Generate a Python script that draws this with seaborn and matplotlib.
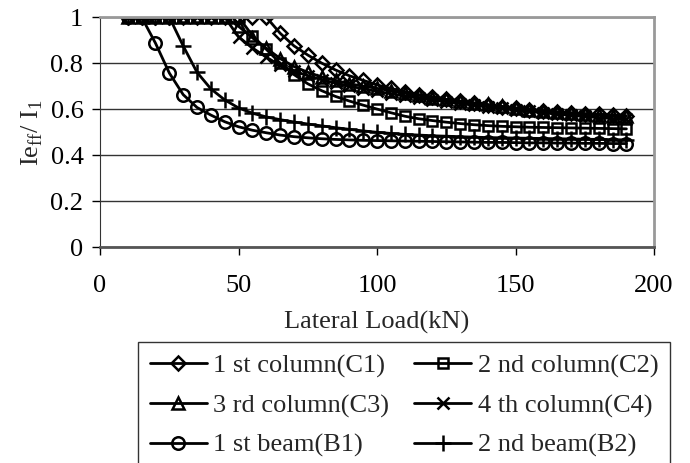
import numpy as np
import pandas as pd
import matplotlib
matplotlib.use("Agg")
import matplotlib.pyplot as plt
import seaborn as sns

# lateral load steps (kN)
load = list(range(10, 195, 5))

c1 = [1, 1, 1, 1, 1, 1, 1, 1, 1, 1, 1, 0.93, 0.875, 0.835, 0.80, 0.77, 0.745, 0.725, 0.705,
      0.69, 0.675, 0.663, 0.652, 0.642, 0.633, 0.625, 0.617, 0.61, 0.604, 0.598, 0.593,
      0.588, 0.584, 0.58, 0.577, 0.574, 0.571]
c2 = [1, 1, 1, 1, 1, 1, 1, 1, 1, 0.92, 0.86, 0.80, 0.75, 0.71, 0.68, 0.655, 0.635, 0.617, 0.60,
      0.584, 0.569, 0.558, 0.55, 0.543, 0.537, 0.532, 0.528, 0.525, 0.523, 0.521, 0.52,
      0.519, 0.518, 0.517, 0.516, 0.515, 0.514]
c3 = [1, 1, 1, 1, 1, 1, 1, 1, 0.96, 0.91, 0.865, 0.82, 0.785, 0.76, 0.74, 0.725, 0.71, 0.70, 0.69,
      0.68, 0.67, 0.66, 0.65, 0.642, 0.635, 0.627, 0.62, 0.612, 0.605, 0.598, 0.592,
      0.587, 0.582, 0.578, 0.574, 0.571, 0.568]
c4 = [1, 1, 1, 1, 1, 1, 1, 1, 0.914, 0.866, 0.826, 0.79, 0.765, 0.745, 0.728, 0.713, 0.70, 0.688,
      0.677, 0.667, 0.657, 0.648, 0.64, 0.632, 0.624, 0.617, 0.61, 0.603, 0.596, 0.59,
      0.584, 0.578, 0.573, 0.568, 0.563, 0.559, 0.555]
b1 = [1, 1, 0.887, 0.757, 0.663, 0.607, 0.574, 0.545, 0.523, 0.508, 0.497, 0.487, 0.48, 0.475,
      0.471, 0.468, 0.466, 0.464, 0.463, 0.462, 0.461, 0.46, 0.459, 0.458, 0.457, 0.456,
      0.455, 0.455, 0.454, 0.453, 0.453, 0.452, 0.452, 0.451, 0.451, 0.45, 0.45]
b2 = [1, 1, 1, 1, 0.875, 0.76, 0.688, 0.64, 0.605, 0.582, 0.566, 0.554, 0.544, 0.535, 0.527,
      0.519, 0.512, 0.505, 0.499, 0.494, 0.49, 0.487, 0.484, 0.482, 0.48, 0.478, 0.476,
      0.475, 0.474, 0.473, 0.472, 0.471, 0.47, 0.469, 0.468, 0.467, 0.466]

labels = ['1 st column(C1)', '2 nd column(C2)', '3 rd column(C3)',
          '4 th column(C4)', '1 st beam(B1)', '2 nd beam(B2)']
markers = ['D', 's', '^', 'x', 'o', '+']
series = [c1, c2, c3, c4, b1, b2]

xticks = [0, 50, 100, 150, 200]
yticks = [0, 0.2, 0.4, 0.6, 0.8, 1.0]
ytick_labels = ['0', '0.2', '0.4', '0.6', '0.8', '1']

sns.set_style('white')
plt.rcParams['font.family'] = ['Liberation Serif', 'DejaVu Serif']
plt.rcParams['mathtext.fontset'] = 'custom'
plt.rcParams['mathtext.rm'] = 'Liberation Serif'

fig = plt.figure(figsize=(6.9, 4.63), dpi=100)
ax = fig.add_axes([0.145, 0.4665, 0.803, 0.4965])

msizes = {'D': 7, 's': 7.5, '^': 8.5, 'x': 8.5, 'o': 9, '+': 11}
for vals, lab, m in zip(series, labels, markers):
    sns.lineplot(x=load, y=vals, ax=ax, color='black', lw=2, marker=m,
                 markersize=msizes[m], mfc='none', mec='black', mew=1.8,
                 label=lab, legend=False)

ax.set_xlim(0, 200)
ax.set_ylim(0, 1)
ax.set_xticks(xticks)
ax.set_xticklabels([str(t) for t in xticks])
ax.set_yticks(yticks)
ax.set_yticklabels(ytick_labels)
ax.tick_params(axis='both', labelsize=19, direction='out', length=6, width=1,
               colors='black', bottom=True, left=True)
ax.tick_params(axis='x', pad=14)
ax.tick_params(axis='y', pad=6)

ax.grid(axis='y', color='#333333', lw=1)
ax.grid(axis='x', visible=False)
for s in ['top', 'right']:
    ax.spines[s].set_color('#999999')
    ax.spines[s].set_linewidth(2)
ax.spines['left'].set_color('#333333')
ax.spines['bottom'].set_color('#555555')
ax.spines['bottom'].set_linewidth(2)

ax.set_xlabel('Lateral Load(kN)', fontsize=19, labelpad=10)
ax.set_ylabel(r'Ie$_{\rm ff}$/ I$_{\rm 1}$', fontsize=19, labelpad=4)

# legend fills row by row: C1 C2 / C3 C4 / B1 B2
handles, labs = ax.get_legend_handles_labels()
order = [0, 2, 4, 1, 3, 5]
leg = fig.legend([handles[i] for i in order], [labs[i] for i in order],
                 loc='upper left', bbox_to_anchor=(0.2, 0.2613),
                 ncol=2, fontsize=19, frameon=True, fancybox=False,
                 edgecolor='black', handlelength=2.15, handletextpad=0.25,
                 columnspacing=0.95, labelspacing=0.6, borderpad=0.45,
                 borderaxespad=0)
leg.get_frame().set_linewidth(1)

fig.savefig('out.png', dpi=100)
